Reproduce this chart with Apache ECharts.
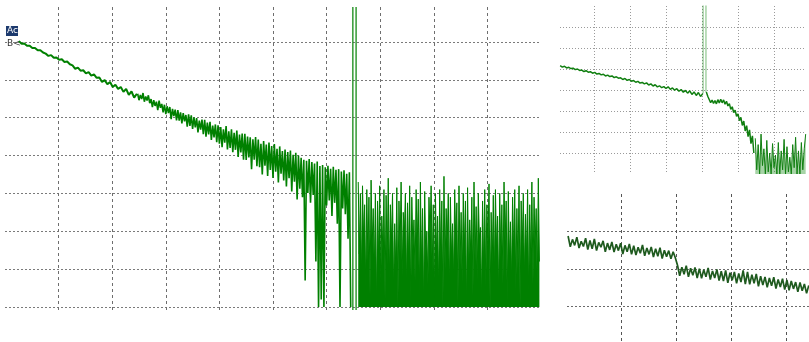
<!DOCTYPE html>
<html>
<head>
<meta charset="utf-8">
<script src="https://cdn.jsdelivr.net/npm/echarts@6/dist/echarts.min.js"></script>
<style>html,body{margin:0;padding:0;background:#fff}#c{width:809px;height:342px}</style>
</head>
<body>
<div id="c"></div>
<script>
// ---- Data (units: 1/10 of a screen division) ----
// Main trace, clean start: sampled from x=2.6, every 0.5
const mainStartX0 = 2.6, mainStartDx = 0.5;
const mainStartY = [
  70.2, 69.5, 69.6, 69.0, 69.0, 68.4, 68.4, 67.8, 67.8, 67.2,
  66.9, 66.3, 66.5, 65.8, 65.9, 65.3, 65.4, 64.7, 64.8, 64.1,
  63.8, 62.9, 63.2, 62.4, 62.5, 61.7, 62.0, 61.1, 61.4, 60.5,
  60.6, 59.4, 59.9, 58.8, 59.4, 58.1, 58.7, 57.6, 58.1, 56.8,
  57.6, 56.0, 56.9, 55.3, 56.3
];
// Main trace, noisy slope: sampled from x=24.75, every 0.25
const mainSlopeX0 = 24.75, mainSlopeDx = 0.25;
const mainSlopeY = [
  56.3, 54.6, 56.0, 54.9, 56.5, 54.2, 55.6, 54.5, 55.9, 53.8,
  54.9, 52.8, 54.6, 53.1, 54.2, 52.0, 54.5, 52.6, 53.6, 51.4,
  53.4, 50.9, 53.0, 51.2, 52.8, 49.6, 52.3, 50.4, 52.1, 49.3,
  52.0, 49.2, 51.4, 48.5, 51.2, 49.0, 50.7, 47.6, 50.9, 47.8,
  50.6, 47.0, 50.1, 47.4, 49.9, 46.1, 49.2, 46.8, 49.5, 45.6,
  49.4, 45.0, 48.7, 45.6, 48.9, 44.1, 47.9, 44.8, 48.2, 43.5,
  48.0, 43.1, 47.5, 42.2, 46.9, 43.4, 47.8, 41.6, 46.4, 42.0,
  46.9, 40.9, 46.0, 41.5, 46.6, 39.6, 45.5, 40.8, 45.8, 38.9,
  45.7, 38.8, 45.0, 39.5, 44.8, 36.4, 44.3, 38.9, 44.9, 37.2,
  44.2, 36.9, 43.1, 35.0, 43.8, 37.3, 42.9, 34.6, 43.4, 36.2,
  42.5, 34.1, 43.0, 35.7, 41.8, 32.9, 42.4, 35.2, 41.2, 33.4,
  41.6, 31.8, 40.9, 34.0, 41.3, 30.5, 40.2, 33.1, 40.7, 28.4,
  40.0, 31.2, 39.4, 29.0, 38.9, 7.0, 38.6, 30.1, 39.1, 27.5,
  38.3, 29.6, 37.9, 12.0, 38.4, 0.0, 37.2, 2.0, 37.5, 0.0,
  36.9, 26.8, 37.3, 28.1, 36.5, 24.0, 37.0, 27.5, 36.2, 22.0,
  36.4, 0.0, 35.8, 26.0, 36.1, 24.5, 35.2, 18.0, 35.6, 0.0
];
// Main trace, noise floor: sampled from x=65.9, every 0.2
const mainNoiseX0 = 65.9, mainNoiseDx = 0.2;
const mainNoiseY = [
  33,14, 30,8, 32,18, 27,5, 31,12, 29,3, 33.5,16, 26,9, 30,0, 28,13,
  32,6, 24,15, 31,2, 29.5,11, 34,7, 27,17, 30,4, 22,10, 31.5,0, 28,14,
  33,8, 25,19, 30,5, 27.5,12, 32,1, 29,15, 23,7, 31,16, 28.5,3, 33,11,
  26,0, 30.5,13, 20,6, 29,18, 32,9, 27,2, 30,14, 24,5, 31,12, 28,0,
  34.5,10, 26,16, 30,4, 29,13, 22,7, 31,17, 27.5,1, 32,11, 25,6, 30,15,
  28,0, 31.5,9, 23,14, 29,3, 33,12, 26.5,7, 30,18, 21,2, 28,10, 31,5,
  27,16, 32.5,0, 25,11, 29.5,8, 31,15, 24,3, 30,13, 27,6, 33,17, 28,1,
  30.5,12, 22.5,7, 29,14, 31,4, 26,10, 32,0, 28,15, 30,8, 24.5,13, 31,3,
  27,11, 33,6, 29,16, 26,5, 34,12
];
// Main trace, full-scale spikes
const mainSpikeX = [64.9, 65.5];
const mainSpikeLow = -0.8, mainSpikeHigh = 79.2;

// Top-right trace: before the spike (x from 0.6, every 0.6)
const trPreX0 = 0.6, trPreDx = 0.6;
const trPreY = [
  51.6, 50.9, 51.3, 50.5, 50.8, 50.2, 50.4, 49.7, 50.0, 49.3,
  49.5, 48.8, 49.2, 48.5, 48.7, 48.0, 48.4, 47.6, 47.9, 47.2,
  47.5, 46.7, 47.1, 46.4, 46.7, 45.9, 46.3, 45.6, 45.8, 45.0,
  45.5, 44.6, 45.0, 44.2, 44.5, 43.7, 44.1, 43.3, 43.6, 42.9,
  43.4, 42.4, 42.9, 41.9, 42.5, 41.5, 42.0, 41.1, 41.6, 40.7,
  41.5, 40.3, 41.0, 39.9, 40.6, 39.4, 40.2, 38.9, 39.8, 38.5,
  39.6, 37.9, 39.1, 37.4, 38.8, 36.9, 38.3
];
// Top-right spike
const trSpike = [[40.3, 38.3], [40.3, 82], [41.1, 82], [41.1, 39]];
// Top-right trace: after the spike (x from 41.2, every 0.4)
const trPostX0 = 41.2, trPostDx = 0.4;
const trPostY = [
  39, 37, 35.5, 34.0, 35.2, 33.6, 35.0, 33.4, 35.4, 33.8,
  35.6, 33.9, 35.3, 33.2, 34.6, 32.4, 33.5, 30.8, 32.0, 29.2,
  30.4, 27.5, 28.6, 25.4, 27.0, 23.1, 25.2, 20.5, 23.0, 17.8,
  21.0, 14.5, 18.2, 10.0
];
// Top-right noise floor (x from 54.8, every 0.4)
const trFloorX0 = 54.8, trFloorDx = 0.4;
const trFloorY = [
  17, 2, 14, 0, 19, 4, 12, 0, 16, 1,
  10, 0, 14.5, 3, 9, 0, 15, 0, 11, 2,
  16.5, 0, 13, 1, 8, 0, 14, 3, 17.5, 0,
  11, 0, 15, 2, 12, 19
];

// Bottom-right trace (x from 0.2, every 0.4)
const brX0 = 0.2, brDx = 0.4;
const brY = [
  28.8, 25.9, 27.9, 26.3, 28.5, 25.6, 27.4, 26.0, 28.2, 25.2,
  27.6, 25.4, 28.0, 24.9, 27.1, 25.8, 27.5, 24.6, 26.9, 25.1,
  27.2, 24.5, 26.6, 24.9, 26.9, 24.0, 26.3, 24.6, 26.7, 23.9,
  26.2, 23.7, 25.8, 24.2, 26.4, 23.5, 25.6, 23.9, 25.9, 23.2,
  25.4, 23.4, 25.7, 22.8, 25.0, 23.3, 24.9, 22.7, 24.6, 23.0,
  21.0, 18.2, 20.5, 18.6, 20.9, 17.9, 20.2, 18.3, 20.4, 17.6,
  20.1, 17.5, 19.8, 17.9, 20.3, 17.2, 19.5, 17.6, 19.9, 16.9,
  19.4, 16.8, 19.6, 16.3, 19.0, 17.0, 19.2, 16.2, 18.8, 16.5,
  19.6, 16.0, 19.2, 15.9, 18.5, 16.2, 18.7, 15.4, 18.1, 15.7,
  17.9, 15.1, 17.6, 15.5, 17.8, 14.8, 17.2, 15.2, 17.4, 14.5,
  17.1, 14.3, 16.8, 14.7, 16.5, 13.9, 16.4, 14.2, 16.0, 13.5, 15.6
];

const markerA = 'Ac';
const markerB = 'B<-';

// ---- Build ----
function sampled(x0, dx, ys) {
  return ys.map((y, i) => [Math.round((x0 + i * dx) * 1000) / 1000, y]);
}

const hide = { axisLine: { show: false }, axisTick: { show: false }, axisLabel: { show: false } };
function vAxis(grid, max, show, style) {
  return Object.assign({ type: 'value', gridIndex: grid, min: 0, max: max, interval: 10,
    splitLine: { show: show, showMinLine: false, showMaxLine: false, lineStyle: style } }, hide);
}

const mainV = { color: '#6e6e6e', width: 1, type: [3, 3] };
const mainH = { color: '#7a7a7a', width: 1, type: [2, 2] };
const trLine = { color: '#9a9a9a', width: 1, type: [1, 2] };
const brV = { color: '#555', width: 1, type: [3, 3] };
const brH = { color: '#6a6a6a', width: 1, type: [2, 2] };

const xAxes = [
  vAxis(0, 100, true, mainV),
  vAxis(1, 100, false),
  vAxis(2, 70, true, trLine),
  vAxis(3, 70, false),
  vAxis(4, 50, true, brV)
];
const yAxes = [
  vAxis(0, 80, false),
  vAxis(1, 80, true, mainH),
  vAxis(2, 80, false),
  vAxis(3, 80, true, trLine),
  vAxis(4, 40, true, brH)
];
yAxes[1].splitLine.showMinLine = true;

const green = '#008000';
const trGreen = '#107f10';
const series = [
  { type: 'line', xAxisIndex: 1, yAxisIndex: 1, data: sampled(mainStartX0, mainStartDx, mainStartY),
    symbol: 'none', clip: false, lineStyle: { color: green, width: 2 } },
  { type: 'line', xAxisIndex: 1, yAxisIndex: 1, data: sampled(mainSlopeX0, mainSlopeDx, mainSlopeY),
    symbol: 'none', clip: false, lineStyle: { color: green, width: 1.6 } },
  { type: 'line', xAxisIndex: 1, yAxisIndex: 1, data: sampled(mainNoiseX0, mainNoiseDx, mainNoiseY),
    symbol: 'none', clip: false, lineStyle: { color: green, width: 1 },
    areaStyle: { color: green, opacity: 1, origin: 'start' } }
];
mainSpikeX.forEach(x => series.push({ type: 'line', xAxisIndex: 1, yAxisIndex: 1,
  data: [[x, mainSpikeLow], [x, mainSpikeHigh]], symbol: 'none', clip: false,
  lineStyle: { color: green, width: 1.2 } }));
series.push(
  { type: 'line', xAxisIndex: 2, yAxisIndex: 2, data: sampled(trPreX0, trPreDx, trPreY),
    symbol: 'none', lineStyle: { color: trGreen, width: 1.5 } },
  { type: 'line', xAxisIndex: 2, yAxisIndex: 2, data: trSpike,
    symbol: 'none', lineStyle: { color: 'rgba(0,128,0,0.45)', width: 1.2 } },
  { type: 'line', xAxisIndex: 2, yAxisIndex: 2, data: sampled(trPostX0, trPostDx, trPostY),
    symbol: 'none', lineStyle: { color: trGreen, width: 1.5 } },
  { type: 'line', xAxisIndex: 2, yAxisIndex: 2, data: sampled(trFloorX0, trFloorDx, trFloorY),
    symbol: 'none', lineStyle: { color: trGreen, width: 1 },
    areaStyle: { color: green, opacity: 0.35, origin: 'start' } },
  { type: 'line', xAxisIndex: 4, yAxisIndex: 4, data: sampled(brX0, brDx, brY),
    symbol: 'none', lineStyle: { color: '#1e5a1e', width: 1.7 } }
);

const chart = echarts.init(document.getElementById('c'), null, { renderer: 'canvas' });
chart.setOption({
  animation: false,
  backgroundColor: '#ffffff',
  grid: [
    { left: 5, top: 7, width: 536, height: 303, outerBoundsMode: 'none' },
    { left: 5, top: 4, width: 536, height: 303, outerBoundsMode: 'none' },
    { left: 558, top: 6, width: 252, height: 168, outerBoundsMode: 'none' },
    { left: 560, top: 6, width: 246, height: 168, outerBoundsMode: 'none' },
    { left: 567, top: 194, width: 273.5, height: 150, outerBoundsMode: 'none' }
  ],
  xAxis: xAxes,
  yAxis: yAxes,
  series: series,
  graphic: [
    { type: 'rect', left: 6, top: 26, shape: { width: 12, height: 10 }, style: { fill: '#1d3a6e' } },
    { type: 'text', left: 7, top: 26, style: { text: markerA, fill: '#ffffff', font: '9px "DejaVu Sans"' } },
    { type: 'text', left: 7, top: 39, style: { text: markerB, fill: '#333333', font: '9px "DejaVu Sans"' } }
  ]
});
</script>
</body>
</html>
